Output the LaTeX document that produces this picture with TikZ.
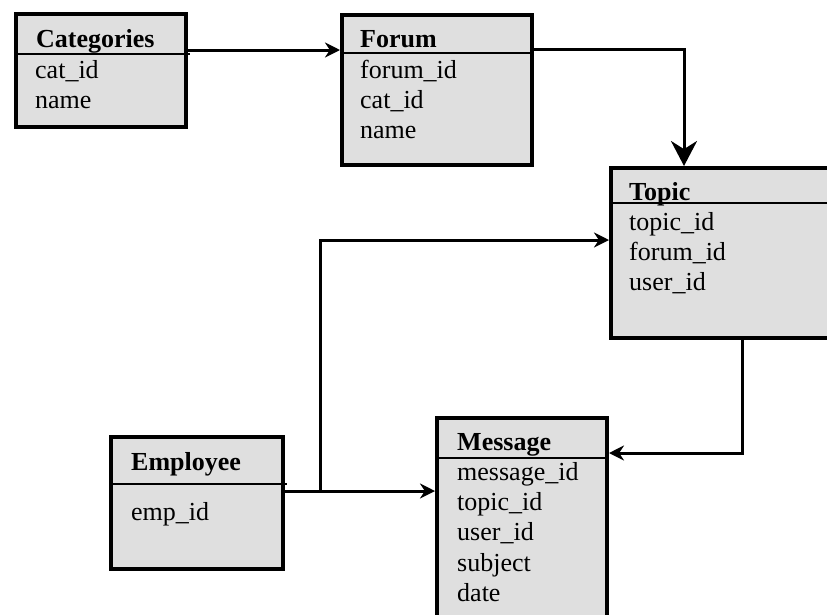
\documentclass[tikz,border=0pt]{standalone}
\usepackage{fontspec}
\setmainfont{Liberation Serif}
\usetikzlibrary{arrows.meta}
\definecolor{tablefill}{RGB}{223,223,223}
\tikzset{
  tablebox/.style={draw=black, fill=tablefill, line width=4pt, rectangle,
    anchor=north west, inner sep=0pt},
  headrule/.style={draw=black, line width=1.2pt},
  title/.style={anchor=base west, inner sep=0pt, font=\fontsize{26}{30}\selectfont\bfseries},
  field/.style={anchor=base west, inner sep=0pt, font=\fontsize{26}{30}\selectfont},
  link/.style={draw=black, line width=3pt, -{Stealth[length=15pt,width=15pt]}},
  biglink/.style={draw=black, line width=3pt, -{Stealth[length=25pt,width=26pt]}},
}
\begin{document}
\begin{tikzpicture}[x=1pt, y=-1pt]
\useasboundingbox (0,0) rectangle (827,614);
\clip (0,0) rectangle (827,614);

% tables
\node[tablebox, minimum width=170pt, minimum height=113pt] (cat) at (14,12) {};
\node[tablebox, minimum width=190pt, minimum height=150pt] (forum) at (340,13) {};
\node[tablebox, minimum width=300pt, minimum height=170pt] (topic) at (609,166) {};
\node[tablebox, minimum width=172pt, minimum height=132pt] (employee) at (109,435) {};
\node[tablebox, minimum width=170pt, minimum height=300pt] (message) at (435,416) {};

% header rules
\draw[headrule] (cat.west |- 0,54) -- ([xshift=2pt]cat.east |- 0,54);
\draw[headrule] (forum.west |- 0,53) -- (forum.east |- 0,53);
\draw[headrule] (topic.west |- 0,203) -- (topic.east |- 0,203);
\draw[headrule] (employee.west |- 0,484) -- ([xshift=2pt]employee.east |- 0,484);
\draw[headrule] (message.west |- 0,458) -- (message.east |- 0,458);

% Categories
\node[title] (catT) at (36,47) {Categories};
\node[field] (cat1) at (35,78) {cat\_id};
\node[field] (cat2) at (35,108) {name};

% Forum
\node[title] (forT) at (360,47) {Forum};
\node[field] (for1) at (360,78) {forum\_id};
\node[field] (for2) at (360,108) {cat\_id};
\node[field] (for3) at (360,138) {name};

% Topic
\node[title] (topT) at (629,200) {Topic};
\node[field] (top1) at (629,230) {topic\_id};
\node[field] (top2) at (629,260) {forum\_id};
\node[field] (top3) at (629,290) {user\_id};

% Employee
\node[title] (empT) at (131,470) {Employee};
\node[field] (emp1) at (131,520) {emp\_id};

% Message
\node[title] (msgT) at (457,450) {Message};
\node[field] (msg1) at (457,480) {message\_id};
\node[field] (msg2) at (457,510) {topic\_id};
\node[field] (msg3) at (457,540) {user\_id};
\node[field] (msg4) at (457,571) {subject};
\node[field] (msg5) at (457,601) {date};

% connectors
\coordinate (catrow) at (0,50);
\draw[link] (cat.east |- catrow) -- (forum.west |- catrow);

\coordinate (forbend) at (684,49);
\draw[biglink] (forum.east |- forbend) -- (forbend) -- (forbend |- topic.north);

\coordinate (topbend) at (742,453);
\draw[link] (topbend |- topic.south) -- (topbend) -- (message.east |- topbend);

\coordinate (empfork) at (320,491);
\coordinate (empup) at (320,240);
\draw[link] (employee.east |- empfork) -- (message.west |- empfork);
\draw[link] (empfork) -- (empup) -- (topic.west |- empup);
\end{tikzpicture}
\end{document}
